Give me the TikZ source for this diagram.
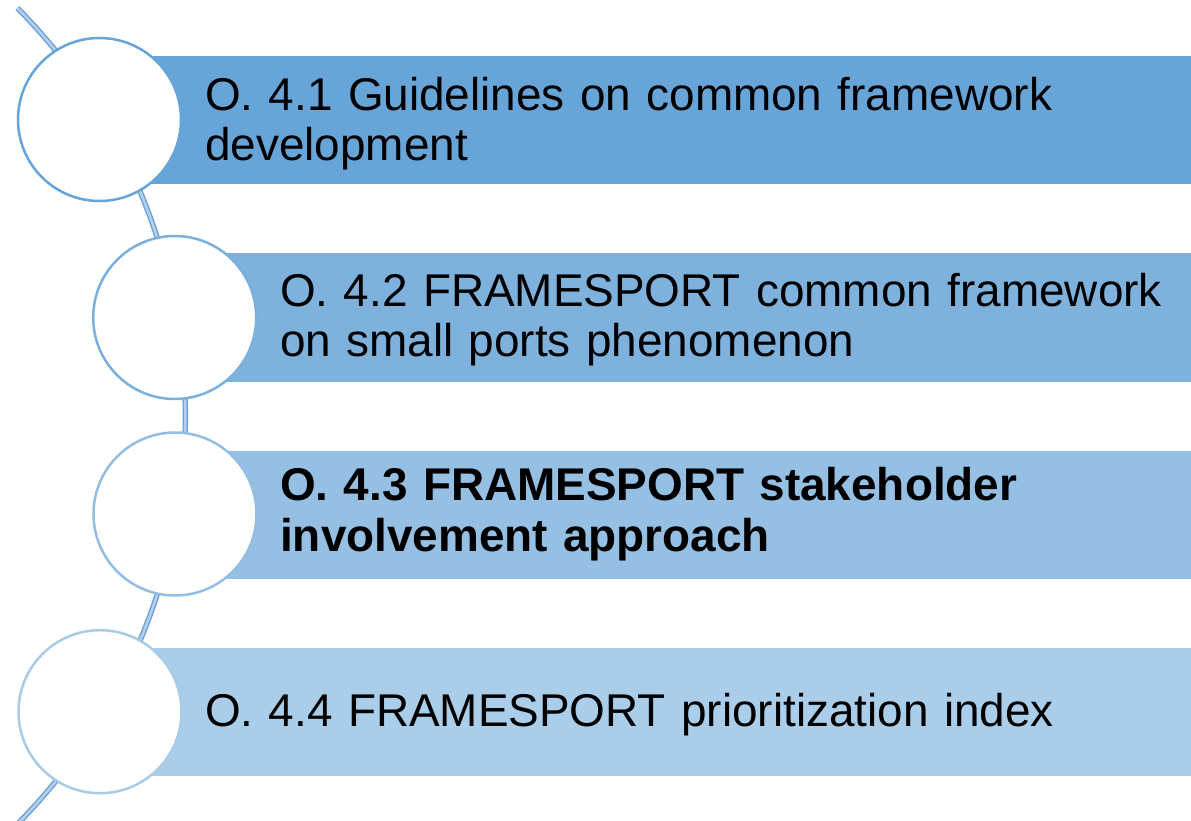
\documentclass[tikz,border=0pt]{standalone}
\usepackage{fontspec}
\setmainfont{Liberation Sans}
\definecolor{barA}{HTML}{67A4D8}
\definecolor{barB}{HTML}{7EB2DD}
\definecolor{barC}{HTML}{96C0E3}
\definecolor{barD}{HTML}{AACDE9}
\definecolor{ringA}{HTML}{67A4D8}
\definecolor{ringB}{HTML}{7BAFDC}
\definecolor{ringC}{HTML}{93BEE2}
\definecolor{ringD}{HTML}{A8CBE8}
\definecolor{arcout}{HTML}{6A9FD8}
\definecolor{arcin}{HTML}{B3CFEE}
\tikzset{
  barbox/.style={rectangle, inner sep=0pt, outer sep=0pt, draw=none, anchor=north west},
  ringnode/.style={circle, fill=white, line width=2.5pt, minimum size=163pt, inner sep=0pt},
  label/.style={anchor=base west, inner sep=0pt, align=left, text width=990pt,
    font=\fontsize{45.9}{50}\selectfont, text=black},
  spine/.style={draw=arcout, line width=1.4pt, double=arcin, double distance=2.6pt}
}
\begin{document}
\begin{tikzpicture}[x=1pt,y=1pt]
\useasboundingbox (0,0) rectangle (1191,-820);
\clip (0,0) rectangle (1191,-820);
\coordinate (arcc) at (-394,-416);
\draw[spine] (arcc) ++(44.76:579.4) arc[start angle=44.76, end angle=-50, radius=579.4];
\node[barbox, fill=barA, minimum width=1081pt, minimum height=128.5pt] (b1) at (110,-55.5) {};
\node[barbox, fill=barB, minimum width=1006pt, minimum height=129pt] (b2) at (185,-252.7) {};
\node[barbox, fill=barC, minimum width=1006pt, minimum height=128.6pt] (b3) at (185,-450.7) {};
\node[barbox, fill=barD, minimum width=1081pt, minimum height=128.3pt] (b4) at (110,-647.7) {};
\node[ringnode, draw=ringA] (c1) at (99.5,-119.5) {};
\node[ringnode, draw=ringB] (c2) at (174.7,-317.5) {};
\node[ringnode, draw=ringC] (c3) at (175,-514) {};
\node[ringnode, draw=ringD] (c4) at (100,-711.7) {};
\node[label] (t1) at (205,-110) {O. 4.1 Guidelines on common framework\\development};
\node[label] (t2) at (280,-306.7) {O. 4.2 FRAMESPORT common framework\\on small ports phenomenon};
\node[label, font=\fontsize{45.9}{51.7}\selectfont\bfseries] (t3) at (280,-500) {O. 4.3 FRAMESPORT stakeholder\\involvement approach};
\node[label] (t4) at (205,-726.7) {O. 4.4 FRAMESPORT prioritization index};
\end{tikzpicture}
\end{document}
